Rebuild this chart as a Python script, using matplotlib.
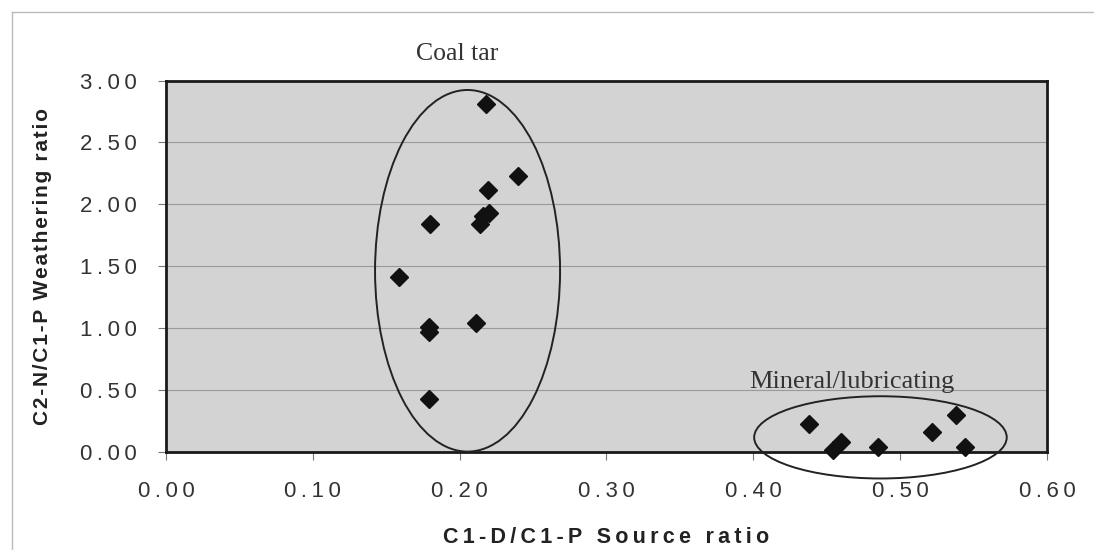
import numpy as np
import matplotlib
matplotlib.use("Agg")
import matplotlib.pyplot as plt
from matplotlib.patches import Ellipse
from matplotlib.lines import Line2D

# --- data ---
coal_x = [0.218, 0.240, 0.219, 0.220, 0.216, 0.214, 0.180, 0.159, 0.179, 0.179, 0.211, 0.179]
coal_y = [2.81, 2.23, 2.12, 1.93, 1.91, 1.84, 1.84, 1.41, 1.01, 0.97, 1.04, 0.43]
mineral_x = [0.438, 0.460, 0.454, 0.485, 0.522, 0.538, 0.544]
mineral_y = [0.23, 0.08, 0.02, 0.04, 0.16, 0.30, 0.04]

x_ticks = [0.0, 0.1, 0.2, 0.3, 0.4, 0.5, 0.6]
y_ticks = [0.0, 0.5, 1.0, 1.5, 2.0, 2.5, 3.0]

SANS = ["Liberation Sans", "DejaVu Sans"]
SERIF = ["Liberation Serif", "DejaVu Serif"]


def spaced(s, sp="\u2009"):
    # the original uses wide letter spacing on the sans-serif texts
    return sp.join(s)


fig = plt.figure(figsize=(10.94, 5.5), dpi=100)
ax = fig.add_axes([0.1517, 0.178, 0.8053, 0.6755])
ax.set_facecolor("#d3d3d3")

ax.plot(coal_x + mineral_x, coal_y + mineral_y, linestyle="none",
        marker="D", markersize=9, color="#111111", zorder=5, clip_on=False)

# group ellipses
ax.add_patch(Ellipse((0.2054, 1.464), 0.126, 2.92, fill=False,
                     edgecolor="#222222", linewidth=1.4, zorder=4, clip_on=False))
ax.add_patch(Ellipse((0.4866, 0.119), 0.172, 0.664, fill=False,
                     edgecolor="#222222", linewidth=1.4, zorder=4, clip_on=False))

ax.text(0.198, 3.17, "Coal tar", ha="center", va="baseline",
        family=SERIF, fontsize=18.5, color="#333333", clip_on=False)
ax.text(0.397, 0.52, "Mineral/lubricating", ha="left", va="baseline",
        family=SERIF, fontsize=19, color="#333333", zorder=6)

ax.set_xlim(0, 0.6)
ax.set_ylim(0, 3.0)
ax.set_xticks(x_ticks)
ax.set_yticks(y_ticks)
ax.set_xticklabels([spaced(f"{v:.2f}") for v in x_ticks])
ax.set_yticklabels([spaced(f"{v:.2f}") for v in y_ticks])
for lab in ax.get_xticklabels() + ax.get_yticklabels():
    lab.set_family(SANS)
    lab.set_fontsize(16)
    lab.set_color("#333333")
ax.tick_params(axis="y", length=6, width=0.8, color="#777777", pad=15)
ax.tick_params(axis="x", length=6, width=0.8, color="#777777", pad=15)

ax.grid(axis="y", color="#9a9a9a", linewidth=0.8)
ax.set_axisbelow(True)
for s in ax.spines.values():
    s.set_linewidth(2.0)
    s.set_color("#1a1a1a")

ax.set_xlabel(spaced("C1-D/C1-P Source ratio"), family=SANS,
              fontsize=15.5, fontweight="bold", color="#222222", labelpad=18)
ax.set_ylabel(spaced("C2-N/C1-P Weathering ratio", "\u200a"), family=SANS,
              fontsize=15, fontweight="bold", color="#222222", labelpad=20)

# light frame around the whole chart
fig.add_artist(Line2D([0.011, 1.0], [0.978, 0.978], color="#bbbbbb", linewidth=1.0))
fig.add_artist(Line2D([0.011, 0.011], [0.0, 0.978], color="#bbbbbb", linewidth=1.0))

fig.savefig("out.png", dpi=100, facecolor="white")
